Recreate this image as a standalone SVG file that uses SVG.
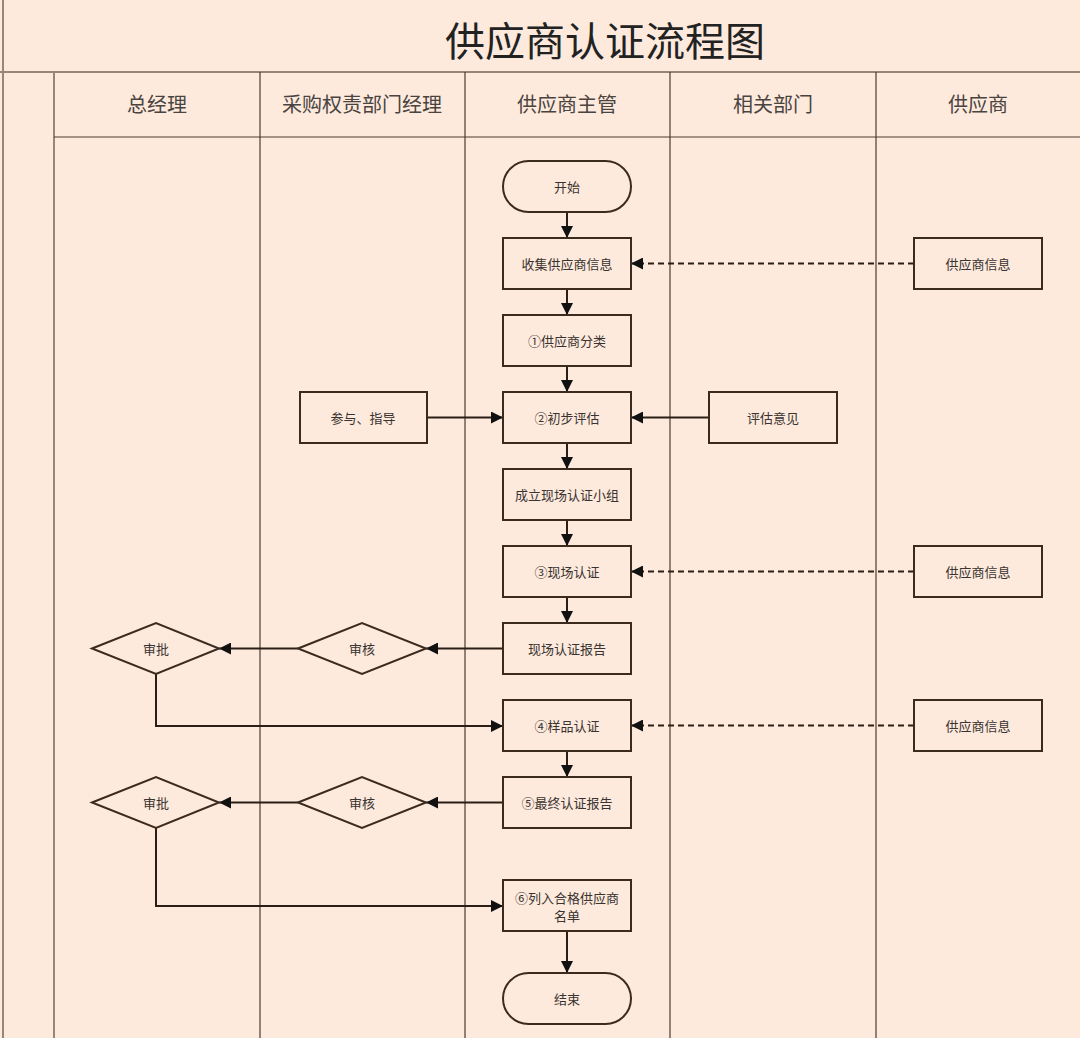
<svg xmlns="http://www.w3.org/2000/svg" width="1080" height="1038" viewBox="0 0 1080 1038">
<defs>
<style>
.lane{stroke:#4a3a2e;stroke-width:1.2;fill:none}
.lane2{stroke:#9a8676;stroke-width:2;fill:none}
.nd{fill:#fdeadd;stroke:#3b2a1e;stroke-width:2}
.t{font-family:"Noto Sans CJK SC","Liberation Sans",sans-serif;font-size:13px;fill:#3a3330;text-anchor:middle;dominant-baseline:central}
.h{font-family:"Liberation Serif","Noto Sans CJK SC",serif;font-size:20px;fill:#4a4440;text-anchor:middle;dominant-baseline:central}
.c{stroke:#2a1e16;stroke-width:2;fill:none;marker-end:url(#ah)}
.d{stroke:#2a1e16;stroke-width:2;fill:none;stroke-dasharray:6 4;marker-end:url(#ah)}
</style>
<marker id="ah" viewBox="0 0 10 10" refX="10" refY="5" markerWidth="6" markerHeight="6" markerUnits="strokeWidth" orient="auto">
<path d="M0,0L10,5L0,10z" fill="#111"/>
</marker>
</defs>
<rect x="0" y="0" width="1080" height="1038" fill="#fdeadd"/>
<g id="frame">
<line class="lane2" x1="3" y1="0" x2="3" y2="1038"/>
<line class="lane2" x1="0" y1="72" x2="1080" y2="72"/>
<line class="lane2" x1="54" y1="72" x2="54" y2="1038"/>
<line class="lane" x1="54" y1="137" x2="1080" y2="137"/>
<line class="lane" x1="260" y1="72" x2="260" y2="1038"/>
<line class="lane" x1="465" y1="72" x2="465" y2="1038"/>
<line class="lane" x1="670" y1="72" x2="670" y2="1038"/>
<line class="lane" x1="876" y1="72" x2="876" y2="1038"/>
<text x="605" y="42" style="font-family:'Liberation Serif','Noto Sans CJK SC',serif;font-size:40px;fill:#222;text-anchor:middle;dominant-baseline:central">供应商认证流程图</text>
<text class="h" x="157" y="105">总经理</text>
<text class="h" x="362" y="105">采购权责部门经理</text>
<text class="h" x="567" y="105">供应商主管</text>
<text class="h" x="773" y="105">相关部门</text>
<text class="h" x="978" y="105">供应商</text>
</g>
<g id="connectors">
<line class="c" x1="567" y1="212" x2="567" y2="238"/>
<line class="c" x1="567" y1="289" x2="567" y2="315"/>
<line class="c" x1="567" y1="366" x2="567" y2="392"/>
<line class="c" x1="567" y1="443" x2="567" y2="469"/>
<line class="c" x1="567" y1="520" x2="567" y2="546"/>
<line class="c" x1="567" y1="597" x2="567" y2="623"/>
<line class="c" x1="567" y1="751" x2="567" y2="777"/>
<line class="c" x1="567" y1="931" x2="567" y2="973"/>
<line class="d" x1="914" y1="263.5" x2="631" y2="263.5"/>
<line class="d" x1="914" y1="571.5" x2="631" y2="571.5"/>
<line class="d" x1="914" y1="725.5" x2="631" y2="725.5"/>
<line class="c" x1="427" y1="417.5" x2="503" y2="417.5"/>
<line class="c" x1="709" y1="417.5" x2="631" y2="417.5"/>
<line class="c" x1="503" y1="648.5" x2="426" y2="648.5"/>
<line class="c" x1="298" y1="648.5" x2="219" y2="648.5"/>
<line class="c" x1="503" y1="802.5" x2="426" y2="802.5"/>
<line class="c" x1="298" y1="802.5" x2="219" y2="802.5"/>
<polyline class="c" points="156,674 156,726 503,726"/>
<polyline class="c" points="156,828 156,906 503,906"/>
</g>
<g id="start"><rect class="nd" x="503" y="161" width="128" height="51" rx="25.5"/><text class="t" x="567" y="186.5">开始</text></g>
<g id="collect"><rect class="nd" x="503" y="238" width="128" height="51"/><text class="t" x="567" y="263.5">收集供应商信息</text></g>
<g id="classify"><rect class="nd" x="503" y="315" width="128" height="51"/><text class="t" x="567" y="340.5">①供应商分类</text></g>
<g id="prelim"><rect class="nd" x="503" y="392" width="128" height="51"/><text class="t" x="567" y="417.5">②初步评估</text></g>
<g id="team"><rect class="nd" x="503" y="469" width="128" height="51"/><text class="t" x="567" y="494.5">成立现场认证小组</text></g>
<g id="onsite"><rect class="nd" x="503" y="546" width="128" height="51"/><text class="t" x="567" y="571.5">③现场认证</text></g>
<g id="onsite-report"><rect class="nd" x="503" y="623" width="128" height="51"/><text class="t" x="567" y="648.5">现场认证报告</text></g>
<g id="sample"><rect class="nd" x="503" y="700" width="128" height="51"/><text class="t" x="567" y="725.5">④样品认证</text></g>
<g id="final-report"><rect class="nd" x="503" y="777" width="128" height="51"/><text class="t" x="567" y="802.5">⑤最终认证报告</text></g>
<g id="list"><rect class="nd" x="503" y="880" width="128" height="51"/><text class="t" x="567" y="897">⑥列入合格供应商</text><text class="t" x="567" y="915">名单</text></g>
<g id="end"><rect class="nd" x="503" y="973" width="128" height="51" rx="25.5"/><text class="t" x="567" y="998.5">结束</text></g>
<g id="info1"><rect class="nd" x="914" y="238" width="128" height="51"/><text class="t" x="978" y="263.5">供应商信息</text></g>
<g id="info2"><rect class="nd" x="914" y="546" width="128" height="51"/><text class="t" x="978" y="571.5">供应商信息</text></g>
<g id="info3"><rect class="nd" x="914" y="700" width="128" height="51"/><text class="t" x="978" y="725.5">供应商信息</text></g>
<g id="guide"><rect class="nd" x="300" y="392" width="127" height="51"/><text class="t" x="363" y="417.5">参与、指导</text></g>
<g id="opinion"><rect class="nd" x="709" y="392" width="128" height="51"/><text class="t" x="773" y="417.5">评估意见</text></g>
<g id="review1"><polygon class="nd" points="298,648.5 362,623 426,648.5 362,674"/><text class="t" x="362" y="648.5">审核</text></g>
<g id="approve1"><polygon class="nd" points="92,648.5 156,623 219,648.5 156,674"/><text class="t" x="156" y="648.5">审批</text></g>
<g id="review2"><polygon class="nd" points="298,802.5 362,777 426,802.5 362,828"/><text class="t" x="362" y="802.5">审核</text></g>
<g id="approve2"><polygon class="nd" points="92,802.5 156,777 219,802.5 156,828"/><text class="t" x="156" y="802.5">审批</text></g>
</svg>
